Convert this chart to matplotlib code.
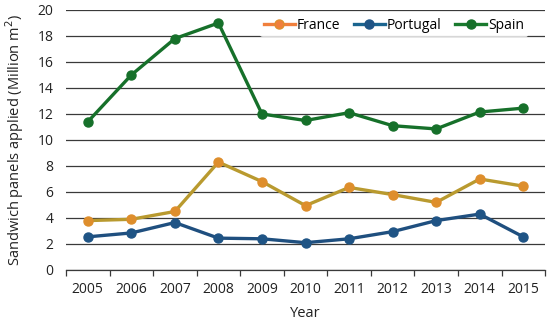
import numpy as np
import matplotlib
matplotlib.use("Agg")
from matplotlib import pyplot as plt
from matplotlib.ticker import FixedLocator

years = ['2005', '2006', '2007', '2008', '2009', '2010', '2011', '2012', '2013', '2014', '2015']
france = [3.8, 3.9, 4.5, 8.3, 6.8, 4.95, 6.35, 5.8, 5.2, 7.0, 6.45]
portugal = [2.55, 2.85, 3.65, 2.45, 2.4, 2.1, 2.4, 2.95, 3.8, 4.3, 2.55]
spain = [11.4, 15.0, 17.8, 19.0, 12.0, 11.5, 12.1, 11.1, 10.85, 12.15, 12.45]

plt.rcParams['font.family'] = ['Open Sans', 'DejaVu Sans']
fig = plt.figure(figsize=(5.5, 3.22), dpi=100)
ax = fig.add_axes([0.12, 0.1615, 0.871, 0.8075])

x = np.arange(len(years))
ax.plot(x, france, color='#b99a2f', lw=2.4, marker='o', ms=6.5,
        mfc='#de8e2c', mec='#de8e2c', label='France', zorder=3)
ax.plot(x, portugal, color='#1f4f7f', lw=2.4, marker='o', ms=6.5,
        mfc='#1f5485', mec='#1f5485', label='Portugal', zorder=3)
ax.plot(x, spain, color='#16702a', lw=2.4, marker='o', ms=6.5,
        mfc='#16702a', mec='#16702a', label='Spain', zorder=3)

ax.set_xlim(-0.5, len(years) - 0.5)
ax.set_ylim(0, 20)
ax.set_yticks(range(0, 21, 2))
ax.yaxis.grid(True, color='#3a3a3a', lw=0.9)
ax.set_axisbelow(True)
ax.tick_params(axis='y', length=0, labelsize=10, colors='#222222', pad=9)
ax.set_xticks(x)
ax.set_xticklabels(years)
ax.tick_params(axis='x', which='major', length=0, labelsize=10, colors='#222222', pad=9)
ax.xaxis.set_minor_locator(FixedLocator(np.arange(-0.5, len(years), 1)))
ax.tick_params(axis='x', which='minor', length=4, width=0.9, color='#3a3a3a')
for s in ['top', 'right', 'left']:
    ax.spines[s].set_visible(False)
ax.spines['bottom'].set_color('#3a3a3a')
ax.spines['bottom'].set_linewidth(0.9)

ax.set_xlabel('Year', fontsize=10.5, color='#222222', labelpad=6)
ax.set_ylabel('Sandwich panels applied (Million m$^2$)', fontsize=10.5, color='#222222', labelpad=8)

leg = ax.legend(loc='upper center', bbox_to_anchor=(0.685, 1.0), ncol=3, frameon=True,
                fontsize=10, handlelength=2.2, columnspacing=1.0, handletextpad=0.15,
                borderaxespad=0.3, borderpad=0.3)
leg.get_frame().set_facecolor('white')
leg.get_frame().set_edgecolor('none')
leg.legend_handles[0].set_color('#f07f3c')
leg.legend_handles[0].set_markerfacecolor('#f07f3c')
leg.legend_handles[1].set_color('#1a648f')
leg.legend_handles[2].set_color('#1a7a2e')

fig.savefig('out.png', dpi=100)
